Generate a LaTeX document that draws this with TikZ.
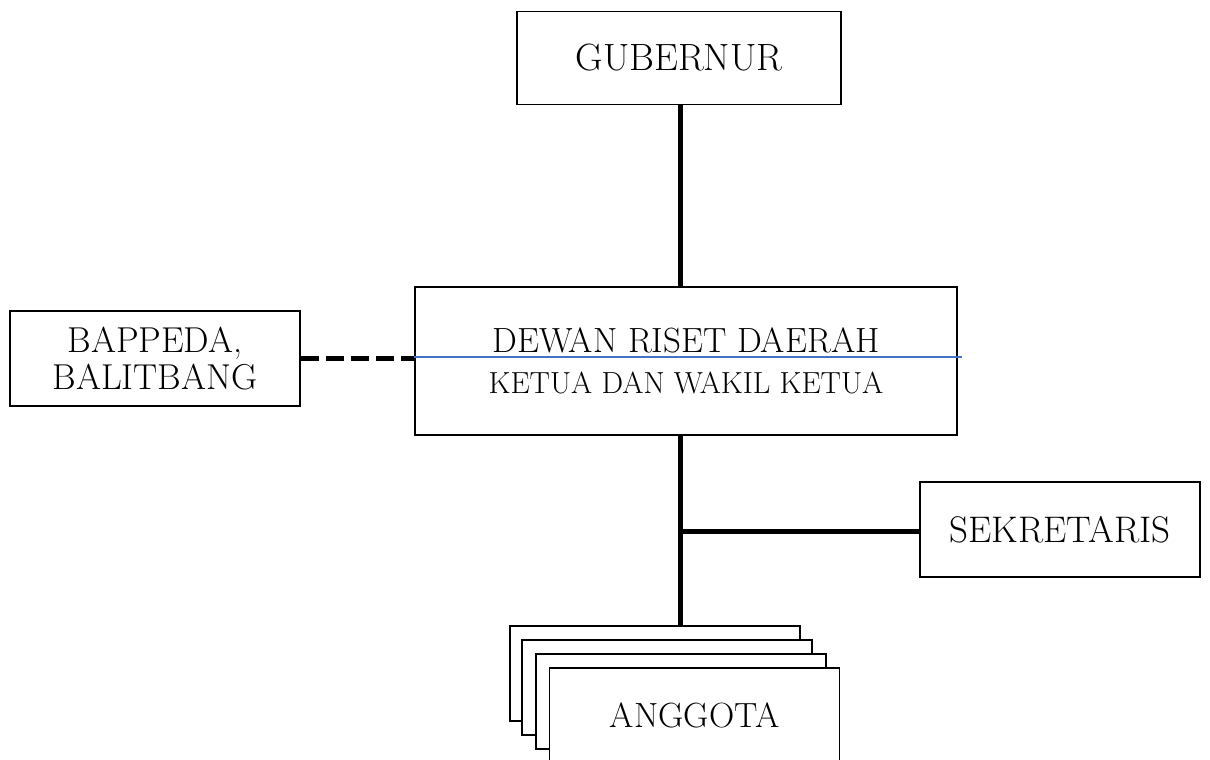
\documentclass[tikz,border=0pt]{standalone}
\begin{document}
\begin{tikzpicture}[x=1pt,y=-1pt,
  box/.style={draw, line width=1.5pt, fill=white, inner sep=0pt, align=center},
  conn/.style={line width=5pt},
  dashconn/.style={line width=5pt, dash pattern=on 18pt off 7pt},
  bigtxt/.style={font=\fontsize{36}{37}\selectfont},
  bluel/.style={line width=1.3pt, draw={rgb,255:red,68;green,114;blue,196}}]
\useasboundingbox (0,0) rectangle (1210,760);
\node[box, font=\fontsize{38}{40}\selectfont, minimum width=324pt, minimum height=93pt] (gub) at (679,58) {GUBERNUR};
\node[box, font=\fontsize{35}{41}\selectfont, minimum width=542pt, minimum height=148pt] (dewan) at (686,361)
  {DEWAN RISET DAERAH\\{\fontsize{30.5}{41}\selectfont KETUA DAN WAKIL KETUA}};
\node[box, bigtxt, minimum width=290pt, minimum height=95pt] (bap) at (155,358.5) {BAPPEDA,\\BALITBANG};
\node[box, font=\fontsize{37}{40}\selectfont, minimum width=280pt, minimum height=95pt] (sek) at (1060,529.5) {SEKRETARIS};
\node[box, minimum width=290pt, minimum height=95pt] (a1) at (655,673.5) {};
\node[box, minimum width=290pt, minimum height=95pt] (a2) at (667,687.5) {};
\node[box, minimum width=290pt, minimum height=95pt] (a3) at (681,701.5) {};
\node[box, font=\fontsize{35}{40}\selectfont, minimum width=290pt, minimum height=95pt] (a4) at (694.5,715.5) {ANGGOTA};
\coordinate (j) at (680,531);
\coordinate (bl) at (962,357);
\draw[conn] (gub.south -| j) -- (dewan.north -| j);
\draw[conn] (dewan.south -| j) -- (a1.north -| j);
\draw[conn] (j) -- (sek.west |- j);
\draw[dashconn] (bap.east) -- (bap.east -| dewan.west);
\draw[bluel] (dewan.west |- bl) -- (bl);
\end{tikzpicture}
\end{document}
